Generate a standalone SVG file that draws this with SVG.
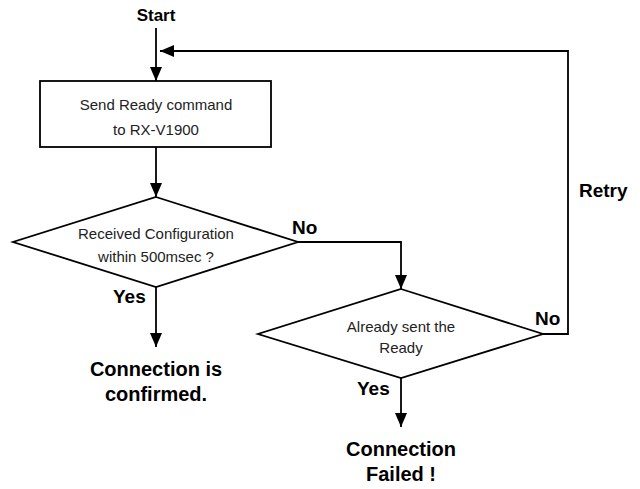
<svg xmlns="http://www.w3.org/2000/svg" width="640" height="489" viewBox="0 0 640 489">
<style>
.shape{fill:#fff;stroke:#000;stroke-width:1.8}
.conn{fill:none;stroke:#000;stroke-width:1.8}
.t{font-family:"Liberation Sans",Arial,sans-serif;font-size:15px;fill:#222;text-anchor:middle}
.b{font-family:"Liberation Sans",Arial,sans-serif;font-weight:bold;fill:#000}
.lbl{font-size:19px}
.big{font-size:20px;text-anchor:middle}
</style>
<defs>
<marker id="ah" markerUnits="userSpaceOnUse" markerWidth="14" markerHeight="12" refX="14" refY="6" orient="auto" viewBox="0 0 14 12">
<path d="M0,0 L14,6 L0,12 z" fill="#000"/>
</marker>
</defs>
<rect width="640" height="489" fill="#fff"/>
<g id="start">
<text class="b" x="156" y="21" style="font-size:17px;text-anchor:middle">Start</text>
</g>
<g id="send">
<rect class="shape" x="40" y="81" width="231" height="66"/>
<text class="t" x="156" y="110">Send Ready command</text>
<text class="t" x="156" y="135">to RX-V1900</text>
</g>
<g id="received">
<polygon class="shape" points="156,197 298,242 156,287 13,242"/>
<text class="t" x="156" y="239">Received Configuration</text>
<text class="t" x="156" y="262">within 500msec ?</text>
</g>
<g id="already">
<polygon class="shape" points="401,289 543,334 401,378 258,334"/>
<text class="t" x="401" y="332">Already sent the</text>
<text class="t" x="401" y="353">Ready</text>
</g>
<g id="confirmed">
<text class="b big" x="156" y="376">Connection is</text>
<text class="b big" x="156" y="401">confirmed.</text>
</g>
<g id="failed">
<text class="b big" x="401" y="456">Connection</text>
<text class="b big" x="401" y="481">Failed !</text>
</g>
<g id="connectors">
<path class="conn" d="M156,28 L156,81" marker-end="url(#ah)"/>
<path class="conn" d="M156,147 L156,197" marker-end="url(#ah)"/>
<path class="conn" d="M156,287 L156,347" marker-end="url(#ah)"/>
<path class="conn" d="M298,242 L401,242 L401,289" marker-end="url(#ah)"/>
<path class="conn" d="M401,378 L401,427" marker-end="url(#ah)"/>
<path class="conn" d="M543,334 L568,334 L568,51 L160,51" marker-end="url(#ah)"/>
<text class="b lbl" x="292" y="234">No</text>
<text class="b lbl" x="113" y="303">Yes</text>
<text class="b lbl" x="535" y="325">No</text>
<text class="b lbl" x="357" y="395">Yes</text>
<text class="b lbl" x="579" y="197">Retry</text>
</g>
</svg>
